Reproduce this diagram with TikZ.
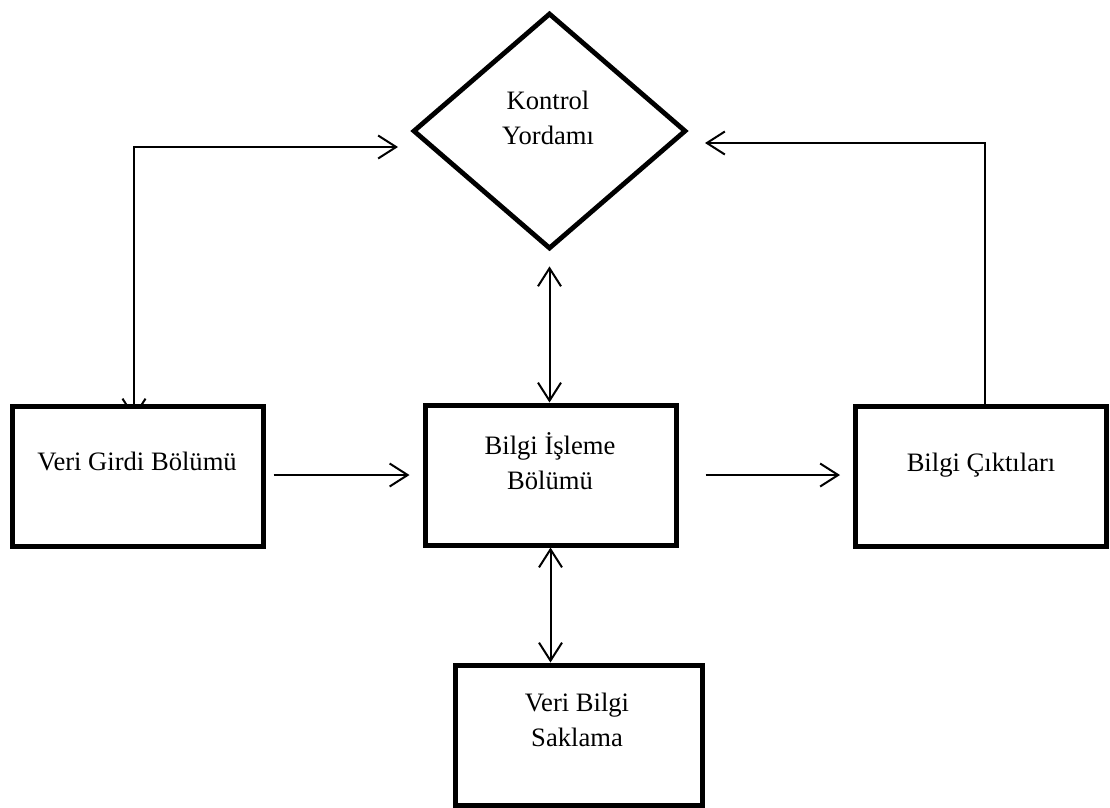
\documentclass[tikz,border=0pt]{standalone}
\usepackage{fontspec}
\setmainfont{Liberation Serif}
\usetikzlibrary{arrows.meta,shapes.geometric,backgrounds}
\begin{document}
\begin{tikzpicture}[x=1pt,y=-1pt,
  every node/.style={font=\fontsize{26.6}{35.5}\selectfont},
  box/.style={draw,fill=white,line width=5pt,minimum width=251pt,minimum height=140pt,inner sep=0pt},
  ctrl/.style={draw,fill=white,diamond,line width=4.8pt,minimum width=273pt,minimum height=236pt,inner sep=0pt},
  lbl/.style={align=center,inner sep=0pt},
  conn/.style={line width=2pt,>={Straight Barb[length=18pt,width=23pt]}}]
\useasboundingbox (0,0) rectangle (1110,807);

% blocks
\node[ctrl] (d) at (549.5,131) {};
\node[box] (b1) at (137.5,476) {};
\node[box] (b2) at (550.5,475) {};
\node[box] (b3) at (981,476.5) {};
\node[box,minimum width=247pt] (b4) at (578.5,735) {};

% labels
\node[lbl] (t0) at (548,118) {Kontrol\\Yordamı};
\node[lbl] (t1) at (137,461) {Veri Girdi Bölümü};
\node[lbl] (t2) at (550,461) {Bilgi İşleme\\Bölümü};
\node[lbl] (t3) at (981,465) {Bilgi Çıktıları};
\node[lbl] (t4) at (577,720) {Veri Bilgi\\Saklama};

% free ends beside the decision block
\coordinate (cL) at (398,147);
\coordinate (cR) at (705,143);

% connectors, drawn under the blocks
\begin{scope}[on background layer]
  \draw[conn,<->] ([xshift=-3.5pt,yshift=-15pt]b1.north) |- (cL);
  \draw[conn,->] ([xshift=4pt]b3.north) |- (cR);
  \draw[conn,<->] ([yshift=-15pt]d.south) -- (d.south |- b2.north);
  \draw[conn,<->] (b2.south) -- (b2.south |- b4.north);
  \draw[conn,->,shorten <=8pt,shorten >=13pt] (b1.east |- b2.west) -- (b2.west);
  \draw[conn,->,shorten <=27pt,shorten >=13pt] (b2.east) -- (b2.east -| b3.west);
\end{scope}
\end{tikzpicture}
\end{document}
